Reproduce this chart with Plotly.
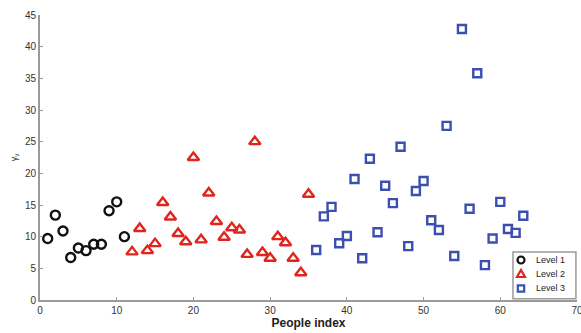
import plotly.graph_objects as go

# Data
level1_x = [1, 2, 3, 4, 5, 6, 7, 8, 9, 10, 11]
level1_y = [9.7, 13.4, 10.9, 6.7, 8.2, 7.8, 8.8, 8.8, 14.1, 15.5, 10.0]

level2_x = list(range(12, 36))
level2_y = [7.6, 11.3, 7.8, 8.9, 15.4, 13.1, 10.5, 9.2, 22.5, 9.5, 16.9, 12.4,
            9.9, 11.4, 11.05, 7.2, 25.0, 7.5, 6.6, 10.0, 9.05, 6.6, 4.3, 16.7]

level3_x = list(range(36, 64))
level3_y = [7.9, 13.2, 14.7, 8.95, 10.1, 19.1, 6.6, 22.3, 10.7, 18.05, 15.3, 24.2,
            8.5, 17.2, 18.8, 12.6, 11.05, 27.5, 6.95, 42.8, 14.4, 35.8, 5.5, 9.7,
            15.5, 11.2, 10.6, 13.3]

series_names = ["Level 1", "Level 2", "Level 3"]
x_ticks = [0, 10, 20, 30, 40, 50, 60, 70]
y_ticks = [0, 5, 10, 15, 20, 25, 30, 35, 40, 45]

C1, C2, C3 = "#111111", "#e0261c", "#3a4fb0"

fig = go.Figure()
fig.add_trace(go.Scatter(x=level1_x, y=level1_y, mode="markers", name=series_names[0],
                         marker=dict(symbol="circle-open", size=9, color=C1,
                                     line=dict(width=2.4, color=C1))))
fig.add_trace(go.Scatter(x=level2_x, y=level2_y, mode="markers", name=series_names[1],
                         marker=dict(symbol="triangle-up-open", size=10, color=C2,
                                     line=dict(width=2.4, color=C2))))
fig.add_trace(go.Scatter(x=level3_x, y=level3_y, mode="markers", name=series_names[2],
                         marker=dict(symbol="square-open", size=8, color=C3,
                                     line=dict(width=2.4, color=C3))))

axis_common = dict(showgrid=False, zeroline=False, showline=True, linecolor="#9a9a9a",
                   linewidth=2, ticks="inside", ticklen=3, tickcolor="#9a9a9a",
                   ticklabeloverflow="allow", automargin=False,
                   tickfont=dict(family="Liberation Sans", size=10, color="#333333"))

fig.update_xaxes(range=[0, 70], tickvals=x_ticks, ticklabelstandoff=0,
                 title=dict(text="<b>People index</b>", standoff=2,
                            font=dict(family="Liberation Sans", size=12, color="#222222")),
                 **axis_common)
fig.update_yaxes(range=[0, 45], tickvals=y_ticks,
                 title=dict(text="γ<sub>v</sub>", standoff=6,
                            font=dict(family="Liberation Sans", size=9, color="#333333")),
                 **axis_common)

# Compact custom legend (bottom-right, inside plot area)
box_x0, box_y1 = 0.8808, 0.168
key_x, text_x = 0.8957, 0.9200
row_y = [0.1404, 0.0912, 0.0404]
shapes = [dict(type="rect", xref="paper", yref="paper", x0=box_x0, x1=0.998, y0=0.004, y1=box_y1,
               line=dict(color="#9a9a9a", width=1.5), fillcolor="white", layer="above")]
shapes.append(dict(type="circle", xref="paper", yref="paper", xsizemode="pixel", ysizemode="pixel",
                   xanchor=key_x, yanchor=row_y[0], x0=-3.5, x1=3.5, y0=-3.5, y1=3.5,
                   line=dict(color=C1, width=2.2), layer="above"))
shapes.append(dict(type="path", xref="paper", yref="paper", xsizemode="pixel", ysizemode="pixel",
                   xanchor=key_x, yanchor=row_y[1], path="M-4,-3 L4,-3 L0,4 Z",
                   line=dict(color=C2, width=2.2), layer="above"))
shapes.append(dict(type="rect", xref="paper", yref="paper", xsizemode="pixel", ysizemode="pixel",
                   xanchor=key_x, yanchor=row_y[2], x0=-3.2, x1=3.2, y0=-3.2, y1=3.2,
                   line=dict(color=C3, width=2.2), layer="above"))
annotations = [dict(xref="paper", yref="paper", x=text_x, y=yy, text=nm, showarrow=False,
                    xanchor="left", yanchor="middle",
                    font=dict(family="Liberation Sans", size=9, color="#222222"))
               for nm, yy in zip(series_names, row_y)]

fig.update_layout(
    width=581, height=333,
    margin=dict(l=40, r=4, t=15, b=33, autoexpand=False),
    plot_bgcolor="white", paper_bgcolor="white",
    showlegend=False,
    shapes=shapes, annotations=annotations,
)

fig.write_html("out.html")
